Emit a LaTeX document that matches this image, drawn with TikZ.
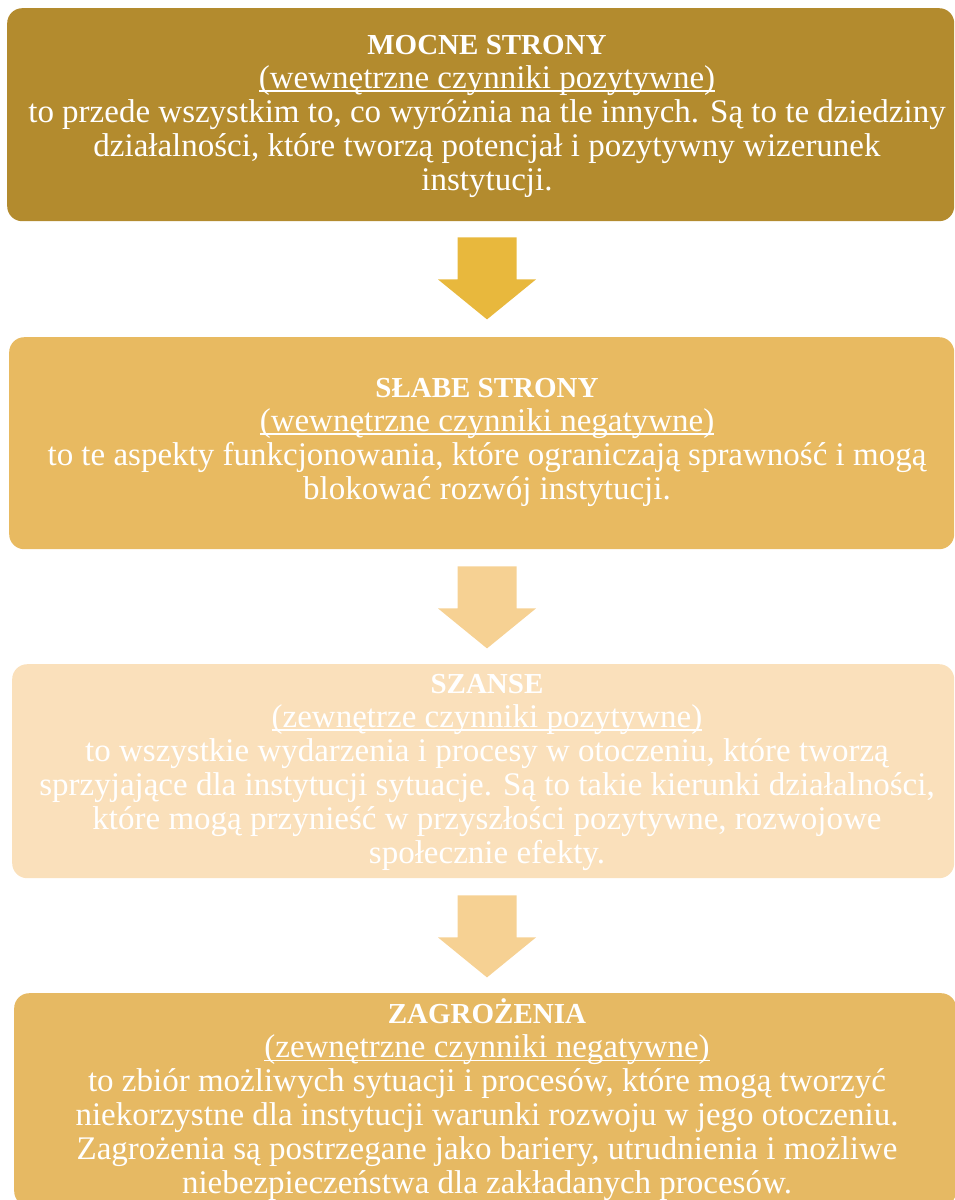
\documentclass[tikz,border=0pt]{standalone}
\usepackage{fontspec}
\setmainfont{Liberation Serif}
\usetikzlibrary{calc}
\newcommand\myul[1]{\setbox0\hbox{#1}\rlap{\rule[-3.5pt]{\wd0}{1.3pt}}\box0}
\newcommand\mytitle[1]{{\fontsize{29}{34}\selectfont\bfseries #1}}
\definecolor{boxA}{RGB}{179,139,46}
\definecolor{boxB}{RGB}{232,186,97}
\definecolor{boxC}{RGB}{250,224,187}
\definecolor{boxD}{RGB}{230,185,99}
\definecolor{arrA}{RGB}{232,184,61}
\definecolor{arrB}{RGB}{246,209,147}
\tikzset{
  panel/.style={rounded corners=15pt, inner sep=0pt, anchor=north west},
  txt/.style={text=white, align=center, inner sep=0pt, font=\fontsize{33}{34}\selectfont},
  downarrow/.pic={\fill[pic actions] (-29.5,0) -- (29.5,0) -- (29.5,42) -- (49,42) -- (0,82) -- (-49,42) -- (-29.5,42) -- cycle;}
}
\begin{document}
\begin{tikzpicture}[x=1pt,y=-1pt]
\useasboundingbox (0,0) rectangle (955,1200);
\clip (0,0) rectangle (955,1200);
\node[panel, fill=boxA, minimum width=947pt, minimum height=213pt] (b1) at (7,8) {};
\node[panel, fill=boxB, minimum width=945pt, minimum height=212pt] (b2) at (9,337) {};
\node[panel, fill=boxC, minimum width=942pt, minimum height=214pt] (b3) at (12,664) {};
\node[panel, fill=boxD, minimum width=942pt, minimum height=213pt] (b4) at (14,993) {};

\node[txt] (t1) at (487,116) {\mytitle{MOCNE STRONY}\\\myul{(wewnętrzne czynniki pozytywne)}\\to przede wszystkim to, co wyróżnia na tle innych. Są to te dziedziny\\działalności, które tworzą potencjał i pozytywny wizerunek\\instytucji.};
\node[txt] (t2) at (487,442) {\mytitle{SŁABE STRONY}\\\myul{(wewnętrzne czynniki negatywne)}\\to te aspekty funkcjonowania, które ograniczają sprawność i mogą\\blokować rozwój instytucji.};
\node[txt] (t3) at (487,772) {\mytitle{SZANSE}\\\myul{(zewnętrze czynniki pozytywne)}\\to wszystkie wydarzenia i procesy w otoczeniu, które tworzą\\sprzyjające dla instytucji sytuacje. Są to takie kierunki działalności,\\które mogą przynieść w przyszłości pozytywne, rozwojowe\\społecznie efekty.};
\node[txt] (t4) at (487,1100) {\mytitle{ZAGROŻENIA}\\\myul{(zewnętrzne czynniki negatywne)}\\to zbiór możliwych sytuacji i procesów, które mogą tworzyć\\niekorzystne dla instytucji warunki rozwoju w jego otoczeniu.\\Zagrożenia są postrzegane jako bariery, utrudnienia i możliwe\\niebezpieczeństwa dla zakładanych procesów.};

\coordinate (a1) at ($(b1.south -| t1.center)+(0,16)$);
\coordinate (a2) at ($(b2.south -| t2.center)+(0,17)$);
\coordinate (a3) at ($(b3.south -| t3.center)+(0,17)$);
\pic[fill=arrA] at (a1) {downarrow};
\pic[fill=arrB] at (a2) {downarrow};
\pic[fill=arrB] at (a3) {downarrow};
\end{tikzpicture}
\end{document}
